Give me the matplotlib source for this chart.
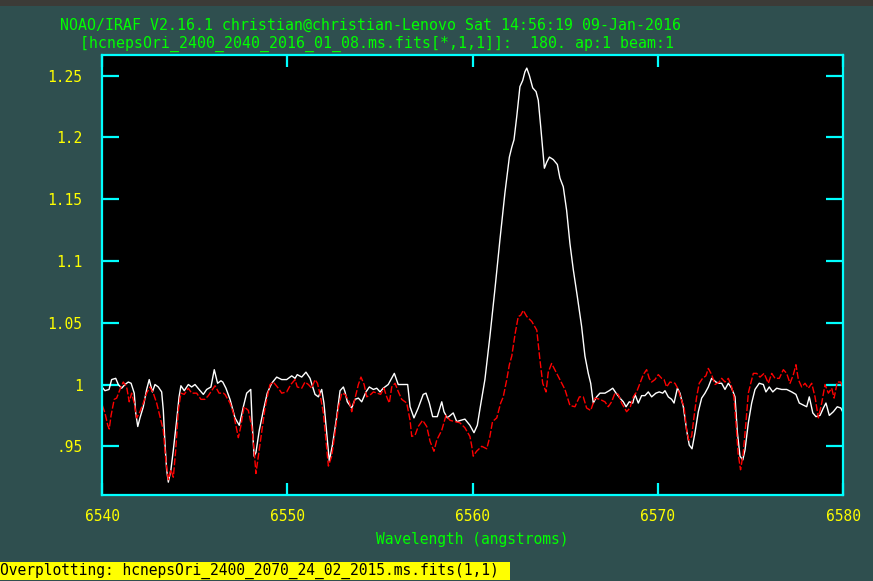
import numpy as np
import matplotlib
matplotlib.use("Agg")
import matplotlib.pyplot as plt
from matplotlib.patches import Rectangle

#### Data ####
# white: hcnepsOri_2400_2040_2016_01_08 (solid)
wave_a = [6540.00, 6540.16, 6540.38, 6540.52, 6540.74, 6540.88, 6541.06, 6541.24, 6541.42, 6541.57,
          6541.74, 6541.82, 6541.93, 6542.05, 6542.23, 6542.41, 6542.55, 6542.72, 6542.86, 6543.04,
          6543.22, 6543.31, 6543.40, 6543.49, 6543.58, 6543.72, 6543.85, 6544.03, 6544.16, 6544.26,
          6544.44, 6544.66, 6544.84, 6545.02, 6545.24, 6545.47, 6545.65, 6545.88, 6546.06, 6546.24,
          6546.42, 6546.52, 6546.69, 6546.91, 6547.18, 6547.41, 6547.63, 6547.81, 6548.03, 6548.10,
          6548.21, 6548.31, 6548.49, 6548.71, 6548.92, 6549.16, 6549.43, 6549.70, 6549.97, 6550.24,
          6550.42, 6550.54, 6550.78, 6551.01, 6551.23, 6551.50, 6551.68, 6551.86, 6551.98, 6552.13,
          6552.27, 6552.45, 6552.67, 6552.85, 6553.03, 6553.12, 6553.24, 6553.48, 6553.66, 6553.84,
          6554.02, 6554.25, 6554.43, 6554.65, 6554.83, 6555.01, 6555.18, 6555.45, 6555.78, 6555.99,
          6556.26, 6556.50, 6556.63, 6556.84, 6557.07, 6557.34, 6557.49, 6557.67, 6557.85, 6558.10,
          6558.34, 6558.46, 6558.64, 6558.96, 6559.15, 6559.36, 6559.59, 6559.86, 6560.08, 6560.26,
          6560.40, 6560.67, 6560.94, 6561.21, 6561.48, 6561.75, 6561.99, 6562.12, 6562.24, 6562.39,
          6562.56, 6562.71, 6562.83, 6562.93, 6563.07, 6563.25, 6563.43, 6563.55, 6563.68, 6563.79,
          6563.88, 6564.01, 6564.15, 6564.36, 6564.58, 6564.72, 6564.90, 6565.08, 6565.26, 6565.44,
          6565.66, 6565.89, 6566.07, 6566.25, 6566.38, 6566.52, 6566.70, 6566.88, 6567.15, 6567.38,
          6567.57, 6567.75, 6567.96, 6568.14, 6568.29, 6568.46, 6568.65, 6568.77, 6568.95, 6569.13,
          6569.31, 6569.49, 6569.67, 6569.90, 6570.08, 6570.27, 6570.39, 6570.57, 6570.75, 6570.88,
          6571.06, 6571.20, 6571.38, 6571.56, 6571.70, 6571.85, 6572.01, 6572.19, 6572.37, 6572.55,
          6572.73, 6572.91, 6573.14, 6573.32, 6573.45, 6573.63, 6573.81, 6573.99, 6574.17, 6574.30,
          6574.44, 6574.59, 6574.71, 6574.89, 6575.07, 6575.25, 6575.48, 6575.70, 6575.84, 6576.02,
          6576.21, 6576.42, 6576.69, 6576.96, 6577.23, 6577.46, 6577.64, 6577.90, 6578.04, 6578.18,
          6578.37, 6578.54, 6578.76, 6578.94, 6579.08, 6579.26, 6579.48, 6579.69, 6579.88, 6579.98]
flux_a = [0.998, 0.995, 0.996, 1.004, 1.005, 1.000, 0.997, 1.000, 1.002, 1.001,
          0.993, 0.977, 0.966, 0.973, 0.982, 0.996, 1.004, 0.994, 1.000, 0.998,
          0.994, 0.979, 0.952, 0.931, 0.921, 0.931, 0.947, 0.971, 0.990, 0.999,
          0.995, 1.000, 0.998, 1.000, 0.996, 0.992, 0.996, 0.998, 1.012, 1.001,
          1.003, 1.002, 0.997, 0.988, 0.973, 0.967, 0.982, 0.993, 0.996, 0.971,
          0.942, 0.945, 0.963, 0.979, 0.993, 1.001, 1.006, 1.004, 1.004, 1.007,
          1.005, 1.008, 1.006, 1.010, 1.005, 0.992, 0.990, 0.996, 0.985, 0.961,
          0.938, 0.952, 0.974, 0.995, 0.998, 0.994, 0.986, 0.981, 0.988, 0.989,
          0.986, 0.994, 0.998, 0.996, 0.997, 0.994, 0.997, 1.000, 1.009, 1.000,
          1.000, 1.000, 0.982, 0.973, 0.981, 0.992, 0.993, 0.985, 0.974, 0.974,
          0.986, 0.978, 0.973, 0.977, 0.970, 0.971, 0.972, 0.967, 0.961, 0.967,
          0.980, 1.004, 1.039, 1.077, 1.117, 1.155, 1.184, 1.192, 1.198, 1.217,
          1.241, 1.246, 1.253, 1.256, 1.250, 1.240, 1.237, 1.230, 1.209, 1.190,
          1.175, 1.180, 1.184, 1.182, 1.178, 1.167, 1.160, 1.141, 1.114, 1.093,
          1.071, 1.047, 1.023, 1.009, 1.001, 0.985, 0.990, 0.993, 0.993, 0.995,
          0.997, 0.993, 0.989, 0.986, 0.982, 0.986, 0.985, 0.992, 0.985, 0.991,
          0.991, 0.994, 0.990, 0.993, 0.994, 0.993, 0.995, 0.990, 0.988, 0.985,
          0.997, 0.993, 0.982, 0.963, 0.951, 0.948, 0.961, 0.978, 0.989, 0.993,
          0.998, 1.005, 1.002, 1.001, 1.001, 0.996, 1.001, 0.997, 0.990, 0.961,
          0.942, 0.939, 0.947, 0.969, 0.985, 0.996, 1.001, 1.000, 0.994, 0.998,
          0.994, 0.997, 0.996, 0.996, 0.994, 0.992, 0.985, 0.983, 0.982, 0.990,
          0.977, 0.974, 0.975, 0.981, 0.985, 0.975, 0.978, 0.982, 0.981, 0.978]

# red: hcnepsOri_2400_2070_24_02_2015 (dashed overplot)
wave_b = [6540.02, 6540.16, 6540.31, 6540.39, 6540.49, 6540.66, 6540.79, 6540.97, 6541.15, 6541.33,
          6541.47, 6541.60, 6541.74, 6541.87, 6542.05, 6542.23, 6542.41, 6542.59, 6542.77, 6542.95,
          6543.13, 6543.31, 6543.44, 6543.58, 6543.72, 6543.85, 6543.98, 6544.12, 6544.26, 6544.44,
          6544.66, 6544.84, 6545.11, 6545.34, 6545.56, 6545.74, 6545.92, 6546.10, 6546.32, 6546.55,
          6546.64, 6546.91, 6547.09, 6547.36, 6547.49, 6547.67, 6547.90, 6548.08, 6548.21, 6548.31,
          6548.44, 6548.62, 6548.80, 6548.98, 6549.07, 6549.25, 6549.52, 6549.70, 6549.97, 6550.19,
          6550.42, 6550.54, 6550.78, 6550.96, 6551.14, 6551.32, 6551.50, 6551.63, 6551.77, 6551.95,
          6552.09, 6552.22, 6552.40, 6552.58, 6552.76, 6552.94, 6553.12, 6553.35, 6553.48, 6553.66,
          6553.84, 6553.98, 6554.15, 6554.29, 6554.51, 6554.65, 6554.86, 6555.04, 6555.22, 6555.37,
          6555.51, 6555.64, 6555.82, 6556.00, 6556.18, 6556.45, 6556.63, 6556.72, 6556.90, 6557.07,
          6557.31, 6557.53, 6557.71, 6557.92, 6558.07, 6558.34, 6558.57, 6558.79, 6559.06, 6559.32,
          6559.59, 6559.86, 6559.95, 6560.04, 6560.22, 6560.50, 6560.77, 6560.94, 6561.08, 6561.31,
          6561.52, 6561.66, 6561.85, 6561.99, 6562.12, 6562.30, 6562.47, 6562.60, 6562.74, 6562.93,
          6563.20, 6563.47, 6563.64, 6563.79, 6563.97, 6564.09, 6564.27, 6564.51, 6564.72, 6564.99,
          6565.26, 6565.53, 6565.77, 6565.98, 6566.16, 6566.38, 6566.61, 6566.88, 6567.15, 6567.33,
          6567.51, 6567.69, 6567.87, 6568.05, 6568.32, 6568.50, 6568.68, 6568.86, 6569.04, 6569.22,
          6569.40, 6569.54, 6569.67, 6569.85, 6570.03, 6570.21, 6570.34, 6570.48, 6570.66, 6570.93,
          6571.11, 6571.24, 6571.42, 6571.56, 6571.67, 6571.83, 6571.95, 6572.10, 6572.24, 6572.42,
          6572.60, 6572.73, 6572.91, 6573.09, 6573.32, 6573.45, 6573.63, 6573.81, 6573.99, 6574.11,
          6574.22, 6574.34, 6574.47, 6574.61, 6574.76, 6574.89, 6575.02, 6575.16, 6575.34, 6575.52,
          6575.74, 6575.97, 6576.15, 6576.33, 6576.56, 6576.78, 6576.96, 6577.14, 6577.32, 6577.46,
          6577.59, 6577.77, 6577.95, 6578.13, 6578.31, 6578.49, 6578.67, 6578.85, 6579.03, 6579.21,
          6579.39, 6579.52, 6579.69, 6579.88, 6579.98]
flux_b = [0.983, 0.977, 0.967, 0.964, 0.975, 0.988, 0.989, 0.996, 1.002, 0.998,
          0.986, 0.993, 0.985, 0.973, 0.978, 0.985, 0.993, 0.998, 0.993, 0.985,
          0.974, 0.963, 0.939, 0.923, 0.931, 0.925, 0.947, 0.979, 0.993, 0.992,
          0.997, 0.993, 0.993, 0.988, 0.988, 0.991, 0.995, 0.999, 0.993, 0.993,
          0.992, 0.985, 0.977, 0.957, 0.966, 0.982, 0.979, 0.966, 0.947, 0.928,
          0.942, 0.961, 0.981, 0.994, 1.000, 1.002, 0.997, 0.993, 0.994, 1.000,
          1.004, 0.998, 0.997, 1.002, 1.000, 0.997, 1.004, 1.001, 0.992, 0.977,
          0.955, 0.934, 0.942, 0.961, 0.981, 0.993, 0.992, 0.986, 0.978, 0.989,
          1.000, 1.006, 1.000, 0.990, 0.992, 0.994, 0.993, 0.992, 0.997, 0.990,
          0.985, 0.998, 1.001, 0.994, 0.988, 0.985, 0.971, 0.958, 0.959, 0.966,
          0.971, 0.966, 0.954, 0.946, 0.955, 0.963, 0.975, 0.971, 0.970, 0.969,
          0.965, 0.958, 0.951, 0.942, 0.946, 0.950, 0.948, 0.958, 0.970, 0.973,
          0.985, 0.990, 1.004, 1.016, 1.023, 1.041, 1.055, 1.056, 1.060, 1.055,
          1.051, 1.044, 1.020, 1.001, 0.994, 1.010, 1.017, 1.010, 1.004, 0.996,
          0.983, 0.982, 0.990, 0.990, 0.981, 0.979, 0.989, 0.988, 0.986, 0.982,
          0.986, 0.993, 0.992, 0.985, 0.978, 0.981, 0.990, 0.994, 1.001, 1.008,
          1.012, 1.005, 1.002, 1.004, 1.008, 1.005, 1.004, 0.998, 1.002, 1.001,
          0.996, 0.989, 0.982, 0.963, 0.955, 0.958, 0.973, 0.990, 1.001, 1.005,
          1.007, 1.013, 1.008, 1.000, 1.002, 1.005, 1.002, 1.005, 0.998, 0.990,
          0.969, 0.944, 0.931, 0.944, 0.969, 0.993, 1.001, 1.009, 1.009, 1.006,
          1.009, 1.001, 1.009, 1.005, 1.005, 1.012, 1.009, 1.001, 1.008, 1.016,
          1.004, 0.998, 1.001, 0.997, 1.001, 0.990, 0.973, 0.985, 1.000, 0.993,
          0.997, 0.989, 1.002, 1.002, 0.997]

x_ticks = [6540, 6550, 6560, 6570, 6580]
y_ticks = [0.95, 1.0, 1.05, 1.1, 1.15, 1.2, 1.25]
y_labels = [".95", "1", "1.05", "1.1", "1.15", "1.2", "1.25"]

title1 = "NOAO/IRAF V2.16.1 christian@christian-Lenovo Sat 14:56:19 09-Jan-2016"
title2 = "[hcnepsOri_2400_2040_2016_01_08.ms.fits[*,1,1]]:  180. ap:1 beam:1"
status = "Overplotting: hcnepsOri_2400_2070_24_02_2015.ms.fits(1,1)"

#### Colours / font ####
bg = "#2f4f4f"
green = "#00ff00"
yellow = "#ffff00"
cyan = "#00ffff"
mono = "DejaVu Sans Mono"
W, H = 873, 581

fig = plt.figure(figsize=(W / 100, H / 100), dpi=100, facecolor=bg)
ax = fig.add_axes([102 / W, 1 - 495 / H, (843 - 102) / W, (495 - 55) / H])
ax.set_facecolor("black")

ax.plot(wave_a, flux_a, color="white", lw=1.0)
ax.plot(wave_b, flux_b, color="red", lw=1.0, linestyle=(0, (5, 1.5)))

ax.set_xlim(6540, 6580)
ax.set_ylim(0.9106, 1.2666)

for s in ax.spines.values():
    s.set_color(cyan)
    s.set_linewidth(1.6)

ax.set_xticks(x_ticks)
ax.set_yticks(y_ticks)
ax.set_yticklabels(y_labels)
ax.tick_params(axis="x", direction="in", length=8.5, width=1.6, color=cyan,
               top=True, labelcolor=yellow, labelsize=10.5, pad=10)
ax.tick_params(axis="y", direction="in", length=12, width=1.6, color=cyan,
               right=True, labelcolor=yellow, labelsize=10.5, pad=14)
for lab in ax.get_xticklabels() + ax.get_yticklabels():
    lab.set_family(mono)

ax.set_xlabel("Wavelength (angstroms)", color=green, family=mono,
              fontsize=10.5, labelpad=6)

#### Header / status line ####
fig.text(60 / W, 1 - 25 / H, title1, color=green, family=mono, fontsize=10.7,
         va="center", ha="left")
fig.text(80 / W, 1 - 44 / H, title2, color=green, family=mono, fontsize=10.7,
         va="center", ha="left")

fig.patches.append(Rectangle((0, 1 - 6 / H), 1, 6 / H, transform=fig.transFigure,
                             facecolor="#3c3b37", edgecolor="none"))
fig.patches.append(Rectangle((0, 1 - 580 / H), 510 / W, 18 / H, transform=fig.transFigure,
                             facecolor=yellow, edgecolor="none"))
fig.text(0, 1 - 571 / H, status, color="black", family=mono, fontsize=10.5,
         va="center", ha="left")

fig.savefig("out.png", dpi=100, facecolor=bg)
